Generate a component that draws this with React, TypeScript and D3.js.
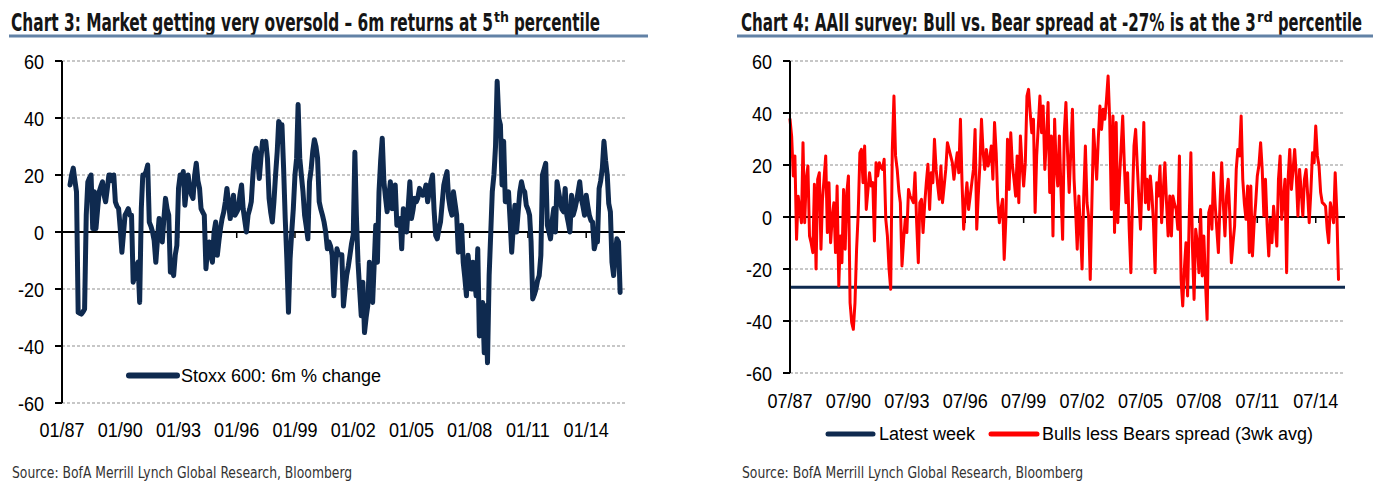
import * as d3 from 'd3';
import { useLayoutEffect, useRef, useState } from 'react';

// Chart 3: Stoxx 600 6m % change, monthly from Jun 1987
const stoxxStart = '1987-06';
const stoxxValues = [
  16.5, 20, 22.4, 18, 14.1, -28.2, -28.5,
  -28.8, -28, -27, 5.9, 17.6, 19, 20, 1.2, 14.1, 1.2, 8, 14.1,
  16, 17.6, 13, 10.6, 15, 20, 20, 18, 20, 10.6, 9, 8.2,
  1.2, -7.1, -1, 5.9, 7, 8.2, 5.9, 5.9, -17.6, -15.3, -12, -10.6,
  -24.7, 8.2, 20, 20, 21.2, 23.5, 3.5, 2, 0, -3, -10.6, -3,
  4.7, 0, -3.5, 4.7, 11.8, 8, 5.9, -14.1, -12, -15.3, -8, -4.7,
  15.3, 20, 18, 21.2, 9.4, 15, 20, 15.3, 13, 11.8, 20, 24.1,
  18, 15.3, 8.2, 7, 5.9, -12.9, -6, -3.5, -8.2, -10.6, 0, 3.5,
  -8.2, -3, 1.2, 4.7, 7, 10.6, 15.3, 10, 4.7, 9, 12.9, 5.9,
  7, 8.2, 13, 16.5, 8.2, 4, 0, 5.9, 8, 10.6, 20, 27.1,
  29.4, 25, 18.8, 26, 31.8, 30, 31.8, 25.9, 11.8, 7, 3.5, 10.6,
  20, 28.2, 38.8, 37.6, 37.6, 22.4, 5, -9.4, -28.2, -9.4, 0, 8.2,
  20, 25.9, 44.7, 25.9, 20, 14.1, 5.9, 2, -2.4, 17.6, 22, 28.2,
  32.4, 30, 25.9, 10.6, 8, 5.9, 3.5, 0, -5.9, -3.5, -5, -8.2,
  -22.4, -12, -5.9, -8, -8, -8, -26, -20, -15, -12, -8, -4,
  -1, 28, 6, -10.6, -20, -29.4, -17.6, -35.3, -30, -25.9, -10.6, -18,
  -24.7, -10.6, 2.4, -10.6, 14.1, 25, 32.9, 17.6, 12, 7.1, 12, 17.6,
  8.2, 12, 16.5, 2.4, 4, 4.7, -5.9, 8.2, 4, 0, 9, 17.6,
  4.7, 8, 11.8, 10.6, 12, 15.3, 14, 12.9, 14, 16.5, 10.6, 14,
  17.6, 20, 8, -1.2, -2.4, 1, 3.5, 10, 16.5, 19, 21.2, 11.8,
  8, 5.9, 14.1, 10, 5.9, -7.1, -2, 2.4, -10.6, -16, -22.4, -8.2,
  -14, -20, -10.6, -16, -22.4, -5.9, -36.5, -30, -24.7, -42.4, -25.9, -45.9,
  -15.3, 0, 14.1, 20, 30, 52.9, 40, 37.6, 16.5, 31.8, 10.6, 12,
  14.1, 3.5, -7.1, 2, 9.4, 0, 7, 14.1, 17.6, 15, 14.1, 9.4,
  8, 5.9, -3.5, -23.5, -22, -20, -17, -15.3, -8.2, 20, 22, 24.1,
  2.4, 0, -2.4, 4, 8.2, 0, 17.6, 14, 10.6, 8, 7.1, 15.3,
  5.9, 3, 0, 12.9, 5.9, 8, 10.6, 14, 17.6, 11.8, 9, 5.9,
  12.9, 9, 5.9, 4, 3.5, -5.9, -3.5, -3.5, 15.3, 18, 22.4, 31.8,
  25, 20, 10, 7.1, -10.6, -15.3, -8, -2.4, -3.5, -21.2,
];

// Chart 4: AAII bulls less bears (3wk avg), monthly from Jul 1987
const aaiiStart = '1987-07';
const aaiiValues = [
  37.6, 31, 15.8, 23.5, -8.6, 8,
  3, -2.2, 28.6, -2.2, 14.5, 19.6, -7.3, -10, -13.7, 12.6, -20, 14.5,
  17, -12.4, 6.8, 15, 23.5, -6, 13.2, -9.9, 0, 5.5, -13.7, 11.9,
  -26.5, -7.3, -17.6, 10.6, -12.4, 9.4, 15.8, -33, -40.6, -43.2, -33, -12.4,
  1.7, 24.7, 26, 13.2, 27.3, 2.9, 10, 17, 11.9, 13.2, -9.2, 20.9,
  15.8, 20.9, 19, 18.3, 22.2, -0.9, -7.3, -20, -27.8, 26, 46.5, 23.5,
  18.3, 10, 5.5, -18.8, -8.6, -0.9, -6, 10.6, 8, 7, 5.5, 17,
  -2.2, -17.6, 5.5, 6.8, -6, 5, 13.2, 20.3, 2.9, 17, 13.2, 29.9,
  18.3, 12, 6.8, 19.6, 5.5, 11.9, 18.3, 28.6, 26, 23.5, 20.9, 14.5,
  20, 24.7, 17, 37.6, 13.2, -4.7, 5.5, 13.2, 2.9, 8, 13.2, 18.3,
  33.7, -4.7, 8, 20, 37.6, 24.7, 18.3, 26, 19.6, 22, 27.3, 14.5,
  36.3, 24.7, 6.8, -2.2, 3, 6.8, -16.3, -0.9, 29.9, 10.6, 32.4, 20,
  14.5, 8, 23.5, 5.5, 31.2, 20, 11.9, 20.9, 46.5, 49.1, 40, 32.4,
  37.6, 1.7, 23.5, 35, 46.5, 32.4, 42.7, 18.3, 30, 44, 9.4, 31.2,
  -7.3, 37.6, 20, 11.9, 31.2, 10, -8.6, 32.4, 44, 25, 9.4, 25,
  41.4, 14.5, 2.9, -12.4, 8.1, -5, -20, 8.1, 27.3, 5.5, 0, -24,
  5.5, 33.7, 24.7, 14.5, 30, 42.7, 33.7, 41.4, 37.6, 45, 54.2, 37.6,
  2.9, 38.8, -6, 36.3, -2.2, 14.5, 26, 38.8, 20, 5.5, 17, -4.7,
  -21.4, 6.8, 27.3, 33.7, 20, 6.8, -4.7, 15, 36.3, 5.5, 14.5, 2.9,
  15.8, 8, -2.2, -21.4, 13.2, 8.1, 19.6, -2.2, 10, 20.9, 5.5, -7.3,
  8.1, -7.3, 8.1, 5, 2.9, -4.7, 23.5, -24, -34.2, -20, -9.9, -30.4,
  0, 24.7, -11.2, -31.7, -4.7, -10, -21.4, 2.9, -22.7, -7.3, -25, -39.4,
  1.7, 4.2, -4.7, 17, 5, -4.7, -13.7, 5.5, 20.9, 5, -7.3, 8.1,
  14.5, 0.4, -17.6, -10, -3.5, 18.3, 26, 23.5, 38.8, 14.5, 5, -0.9,
  11.9, -13.7, 11.9, -15, -3, 5.5, 15.8, 20, 28.6, 18.3, 0.4, 14.5,
  -3, -15, -0.9, -9.9, 4.1, -3, -11.2, 14.5, 23.5, -0.9, 7, 14.5,
  -21.4, 15.8, 26, 10.6, 18, 26, 15.8, 0.4, 18.3, 10, 0.4, 14.5,
  18.3, 8.1, -2.2, 10, 24.7, 20.9, 35, 23.5, 19.6, 9.4, 5.5, 5,
  4.2, -4.7, -9.9, 5.5, 2, -2.2, 17, 1.7, -24,
];
const latestWeek = -27;

const yTicks = [-60, -40, -20, 0, 20, 40, 60];
const stoxxTickLabels = ['01/87', '01/90', '01/93', '01/96', '01/99', '01/02', '01/05', '01/08', '01/11', '01/14'];
const aaiiTickLabels = ['07/87', '07/90', '07/93', '07/96', '07/99', '07/02', '07/05', '07/08', '07/11', '07/14'];

const parseMonth = d3.timeParse('%Y-%m');
const parseTick = d3.timeParse('%m/%y');

const NAVY = '#0f2a4f';
const FONT = "'Liberation Sans', Arial, sans-serif";
const COND_FONT = "'DejaVu Sans Condensed', 'Liberation Sans', sans-serif";

function toPoints(start: string, values: number[]) {
  const s = parseMonth(start)!;
  return values.map((v, i) => ({ date: d3.timeMonth.offset(s, i), value: v }));
}

// tall narrow tick text (like Arial Narrow)
function Narrow({ x, y, anchor, children }: any) {
  return (
    <text
      transform={`translate(${x},${y}) scale(0.86,1)`}
      textAnchor={anchor}
      fontSize={21}
      fontFamily={FONT}
      fill="#000"
    >
      {children}
    </text>
  );
}

// text squeezed horizontally to a given width (condensed faces)
function FitText({ x, y, width, size, weight, color, children }: any) {
  const ref = useRef<SVGTextElement>(null);
  const [sx, setSx] = useState(0.7);
  useLayoutEffect(() => {
    if (!ref.current) return;
    const len = ref.current.getComputedTextLength();
    if (len > 0) setSx(width / len);
  }, [width, children]);
  return (
    <text
      ref={ref}
      transform={`translate(${x},${y}) scale(${sx},1)`}
      fontSize={size}
      fontWeight={weight}
      fontFamily={COND_FONT}
      fill={color}
    >
      {children}
    </text>
  );
}

function Title({ x, main, mainW, sup, supX, supW, rest, restX, restW }: any) {
  return (
    <g>
      <FitText x={x} y={31} width={mainW} size={24} weight="bold" color="#151515">
        {main}
      </FitText>
      <FitText x={supX} y={22} width={supW} size={14} weight="bold" color="#151515">
        {sup}
      </FitText>
      <FitText x={restX} y={31} width={restW} size={24} weight="bold" color="#151515">
        {rest}
      </FitText>
    </g>
  );
}

function Panel({ x0, x1, yTop, yBot, domain, points, tickLabels, labelY, lineColor, lineWidth, below }: any) {
  const x = d3.scaleTime().domain(domain).range([x0, x1]);
  const y = d3.scaleLinear().domain([-60, 60]).range([yBot, yTop]);
  const line = d3
    .line<{ date: Date; value: number }>()
    .x((d) => x(d.date))
    .y((d) => y(d.value));

  return (
    <g>
      {yTicks
        .filter((t) => t !== 0)
        .map((t) => (
          <line key={t} x1={x0} x2={x1} y1={y(t)} y2={y(t)} stroke="#8f8f8f" strokeWidth={1} strokeDasharray="3,2" />
        ))}
      <line x1={x0} x2={x1} y1={y(0)} y2={y(0)} stroke="#000" strokeWidth={2} />
      {tickLabels.map((l: string) => {
        const xx = x(parseTick(l)!);
        return <line key={l} x1={xx} x2={xx} y1={y(0)} y2={y(0) + 6} stroke="#000" strokeWidth={1.5} />;
      })}
      {below ? below(y) : null}
      <path d={line(points)!} fill="none" stroke={lineColor} strokeWidth={lineWidth} strokeLinejoin="round" strokeLinecap="round" />
      <line x1={x0} x2={x0} y1={yTop} y2={yBot} stroke="#000" strokeWidth={2} />
      {yTicks.map((t) => (
        <g key={t}>
          <line x1={x0 - 7} x2={x0} y1={y(t)} y2={y(t)} stroke="#000" strokeWidth={2} />
          <Narrow x={x0 - 18} y={y(t) + 7.5} anchor="end">
            {t}
          </Narrow>
        </g>
      ))}
      {tickLabels.map((l: string) => (
        <Narrow key={l} x={x(parseTick(l)!)} y={labelY} anchor="middle">
          {l}
        </Narrow>
      ))}
    </g>
  );
}

export default function App() {
  const stoxx = toPoints(stoxxStart, stoxxValues);
  const aaii = toPoints(aaiiStart, aaiiValues);

  return (
    <div style={{ position: 'absolute', left: 0, top: 0 }}>
      <svg width={1373} height={487} style={{ display: 'block', background: '#fff' }}>
        <Title
          x={11}
          main="Chart 3: Market getting very oversold – 6m returns at 5"
          mainW={482}
          sup="th"
          supX={494}
          supW={15}
          rest="percentile"
          restX={514}
          restW={86}
        />
        <rect x={9} y={34.5} width={639} height={3} fill="#6282a6" />
        <Title
          x={741}
          main="Chart 4: AAII survey: Bull vs. Bear spread at -27% is at the 3"
          mainW={515}
          sup="rd"
          supX={1257}
          supW={16}
          rest="percentile"
          restX={1278}
          restW={84}
        />
        <rect x={737} y={34.5} width={636} height={3} fill="#6282a6" />

        <Panel
          x0={62}
          x1={625}
          yTop={61}
          yBot={403}
          domain={[parseMonth('1987-01')!, parseMonth('2016-01')!]}
          points={stoxx}
          tickLabels={stoxxTickLabels}
          labelY={437}
          lineColor={NAVY}
          lineWidth={5}
        />
        {/* left legend */}
        <line x1={129} x2={177} y1={375.5} y2={375.5} stroke={NAVY} strokeWidth={6} strokeLinecap="round" />
        <text x={181} y={382} fontSize={18} fontFamily={FONT} fill="#000">
          Stoxx 600: 6m % change
        </text>

        <Panel
          x0={790}
          x1={1345}
          yTop={61}
          yBot={373}
          domain={[parseMonth('1987-07')!, parseMonth('2016-01')!]}
          points={aaii}
          tickLabels={aaiiTickLabels}
          labelY={408}
          lineColor="#ff0000"
          lineWidth={3}
          below={(y: any) => (
            <line x1={790} x2={1345} y1={y(latestWeek)} y2={y(latestWeek)} stroke={NAVY} strokeWidth={3} />
          )}
        />
        {/* right legend */}
        <line x1={828} x2={873} y1={434} y2={434} stroke={NAVY} strokeWidth={5} strokeLinecap="round" />
        <text x={879} y={440} fontSize={18} fontFamily={FONT} fill="#000">
          Latest week
        </text>
        <line x1={991} x2={1037} y1={434} y2={434} stroke="#ff0000" strokeWidth={5} strokeLinecap="round" />
        <text x={1042} y={440} fontSize={18} fontFamily={FONT} fill="#000">
          Bulls less Bears spread (3wk avg)
        </text>

        {/* sources */}
        <FitText x={12} y={478} width={340} size={16} color="#333">
          Source: BofA Merrill Lynch Global Research, Bloomberg
        </FitText>
        <FitText x={742} y={478} width={341} size={16} color="#333">
          Source: BofA Merrill Lynch Global Research, Bloomberg
        </FitText>
      </svg>
    </div>
  );
}
